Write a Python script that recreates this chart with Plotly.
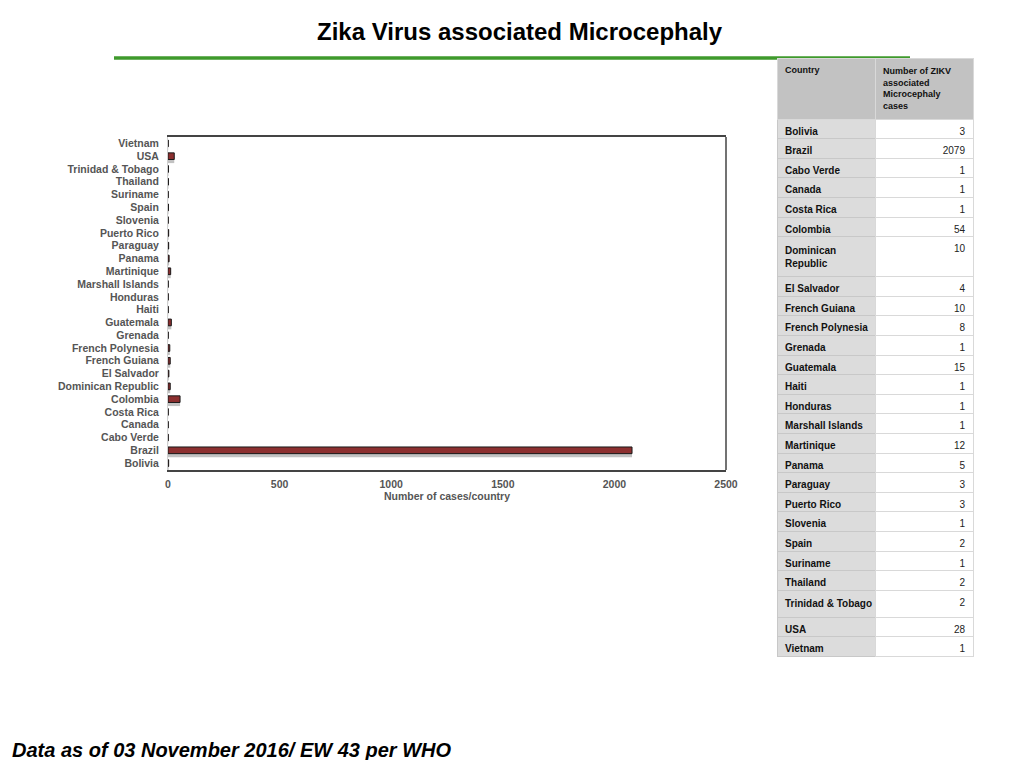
import plotly.graph_objects as go

countries = ["Bolivia", "Brazil", "Cabo Verde", "Canada", "Costa Rica", "Colombia",
             "Dominican Republic", "El Salvador", "French Guiana", "French Polynesia",
             "Grenada", "Guatemala", "Haiti", "Honduras", "Marshall Islands",
             "Martinique", "Panama", "Paraguay", "Puerto Rico", "Slovenia", "Spain",
             "Suriname", "Thailand", "Trinidad & Tobago", "USA", "Vietnam"]
cases = [3, 2079, 1, 1, 1, 54, 10, 4, 10, 8, 1, 15, 1, 1, 1, 12, 5, 3, 3, 1, 2, 1, 2, 2, 28, 1]
x_ticks = [0, 500, 1000, 1500, 2000, 2500]

title_text = "Zika Virus associated Microcephaly"
footer_text = "Data as of 03 November 2016/ EW 43 per WHO"
x_title = "Number of cases/country"
table_header = ["Country", "Number of ZIKV<br>associated<br>Microcephaly<br>cases"]
# non-breaking spaces keep one-line names from wrapping inside the table
table_countries = ["Dominican<br>Republic" if c == "Dominican Republic" else c.replace(" ", "\u00a0")
                   for c in countries]

# page body has an 8px margin; figure sized to fit inside the 1024x768 window
OFF = 8
W, H = 1024 - 2 * OFF, 768 - 2 * OFF
def px(x): return (x - OFF) / W
def py(y): return 1 - (y - OFF) / H

BAR_W = 0.52

fig = go.Figure()
# soft drop shadow under each bar
fig.add_trace(go.Bar(
    x=cases, y=countries, orientation="h",
    marker=dict(color="rgba(120,120,120,0.45)", line=dict(width=0)),
    width=BAR_W, offset=-BAR_W / 2 - 0.28, showlegend=False, hoverinfo="skip",
))
fig.add_trace(go.Bar(
    x=cases, y=countries, orientation="h",
    marker=dict(color="#8c2f2f", line=dict(color="#1a1a1a", width=1)),
    width=BAR_W, offset=-BAR_W / 2, showlegend=False, hoverinfo="x+y",
))

fig.add_trace(go.Table(
    domain=dict(x=[px(777), px(973)], y=[0, py(58)]),
    columnwidth=[1, 1],
    header=dict(
        values=table_header,
        fill_color="#c2c2c2",
        line=dict(color="#d9d9d9", width=1),
        align=["left", "left"],
        font=dict(family="Liberation Sans", size=9, color="#111", weight="bold"),
        height=50,
    ),
    cells=dict(
        values=[table_countries, cases],
        fill_color=[["#dcdcdc"] * len(cases), ["#ffffff"] * len(cases)],
        line=dict(color=["#c8c8c8", "#d9d9d9"], width=1),
        align=["left", "right"],
        font=dict(family="Liberation Sans", size=10, color=["#111", "#222"],
                  weight=["bold", "normal"]),
        height=19.6,
    ),
))

fig.update_layout(
    width=W, height=H,
    margin=dict(l=0, r=0, t=0, b=0),
    paper_bgcolor="white", plot_bgcolor="white",
    font=dict(family="Liberation Sans", color="#555"),
    barmode="overlay",
    xaxis=dict(
        domain=[px(168), px(726)],
        range=[0, 2500], tickvals=x_ticks, ticktext=[str(t) for t in x_ticks],
        showgrid=False, zeroline=False,
        showline=True, mirror=True, linecolor="#444", linewidth=1.5,
        ticks="", tickfont=dict(size=10.5, color="#555", family="Liberation Sans", weight="bold"),
        ticklabelstandoff=4,
        title=dict(text="<b>" + x_title + "</b>", font=dict(size=10.5, color="#555"), standoff=2),
        automargin=False, fixedrange=True,
    ),
    yaxis=dict(
        domain=[py(470), py(137)],
        categoryorder="array", categoryarray=countries,
        tickmode="array", tickvals=countries, ticktext=countries,
        showgrid=False, zeroline=False,
        showline=True, linecolor="#d0d0d0", linewidth=1,
        ticks="", tickfont=dict(size=10.5, color="#555", family="Liberation Sans", weight="bold"),
        ticklabelstandoff=6,
        automargin=False, fixedrange=True,
    ),
    shapes=[
        dict(type="line", xref="x domain", yref="y domain", x0=1, x1=1, y0=0, y1=1,
             line=dict(color="#444", width=1.5)),
        dict(type="line", xref="paper", yref="paper", x0=px(114), x1=px(910), y0=py(58), y1=py(58),
             line=dict(color="#3f9a2c", width=3.5), layer="below"),
    ],
    annotations=[
        dict(text="<b>" + title_text + "</b>", xref="paper", yref="paper", x=px(520), y=py(31),
             xanchor="center", yanchor="middle", showarrow=False,
             font=dict(size=24, color="#000", family="Liberation Sans")),
        dict(text="<b><i>" + footer_text + "</i></b>", xref="paper", yref="paper", x=px(10), y=py(750),
             xanchor="left", yanchor="middle", showarrow=False,
             font=dict(size=20, color="#000", family="Liberation Sans")),
    ],
)

fig.write_html("out.html")
